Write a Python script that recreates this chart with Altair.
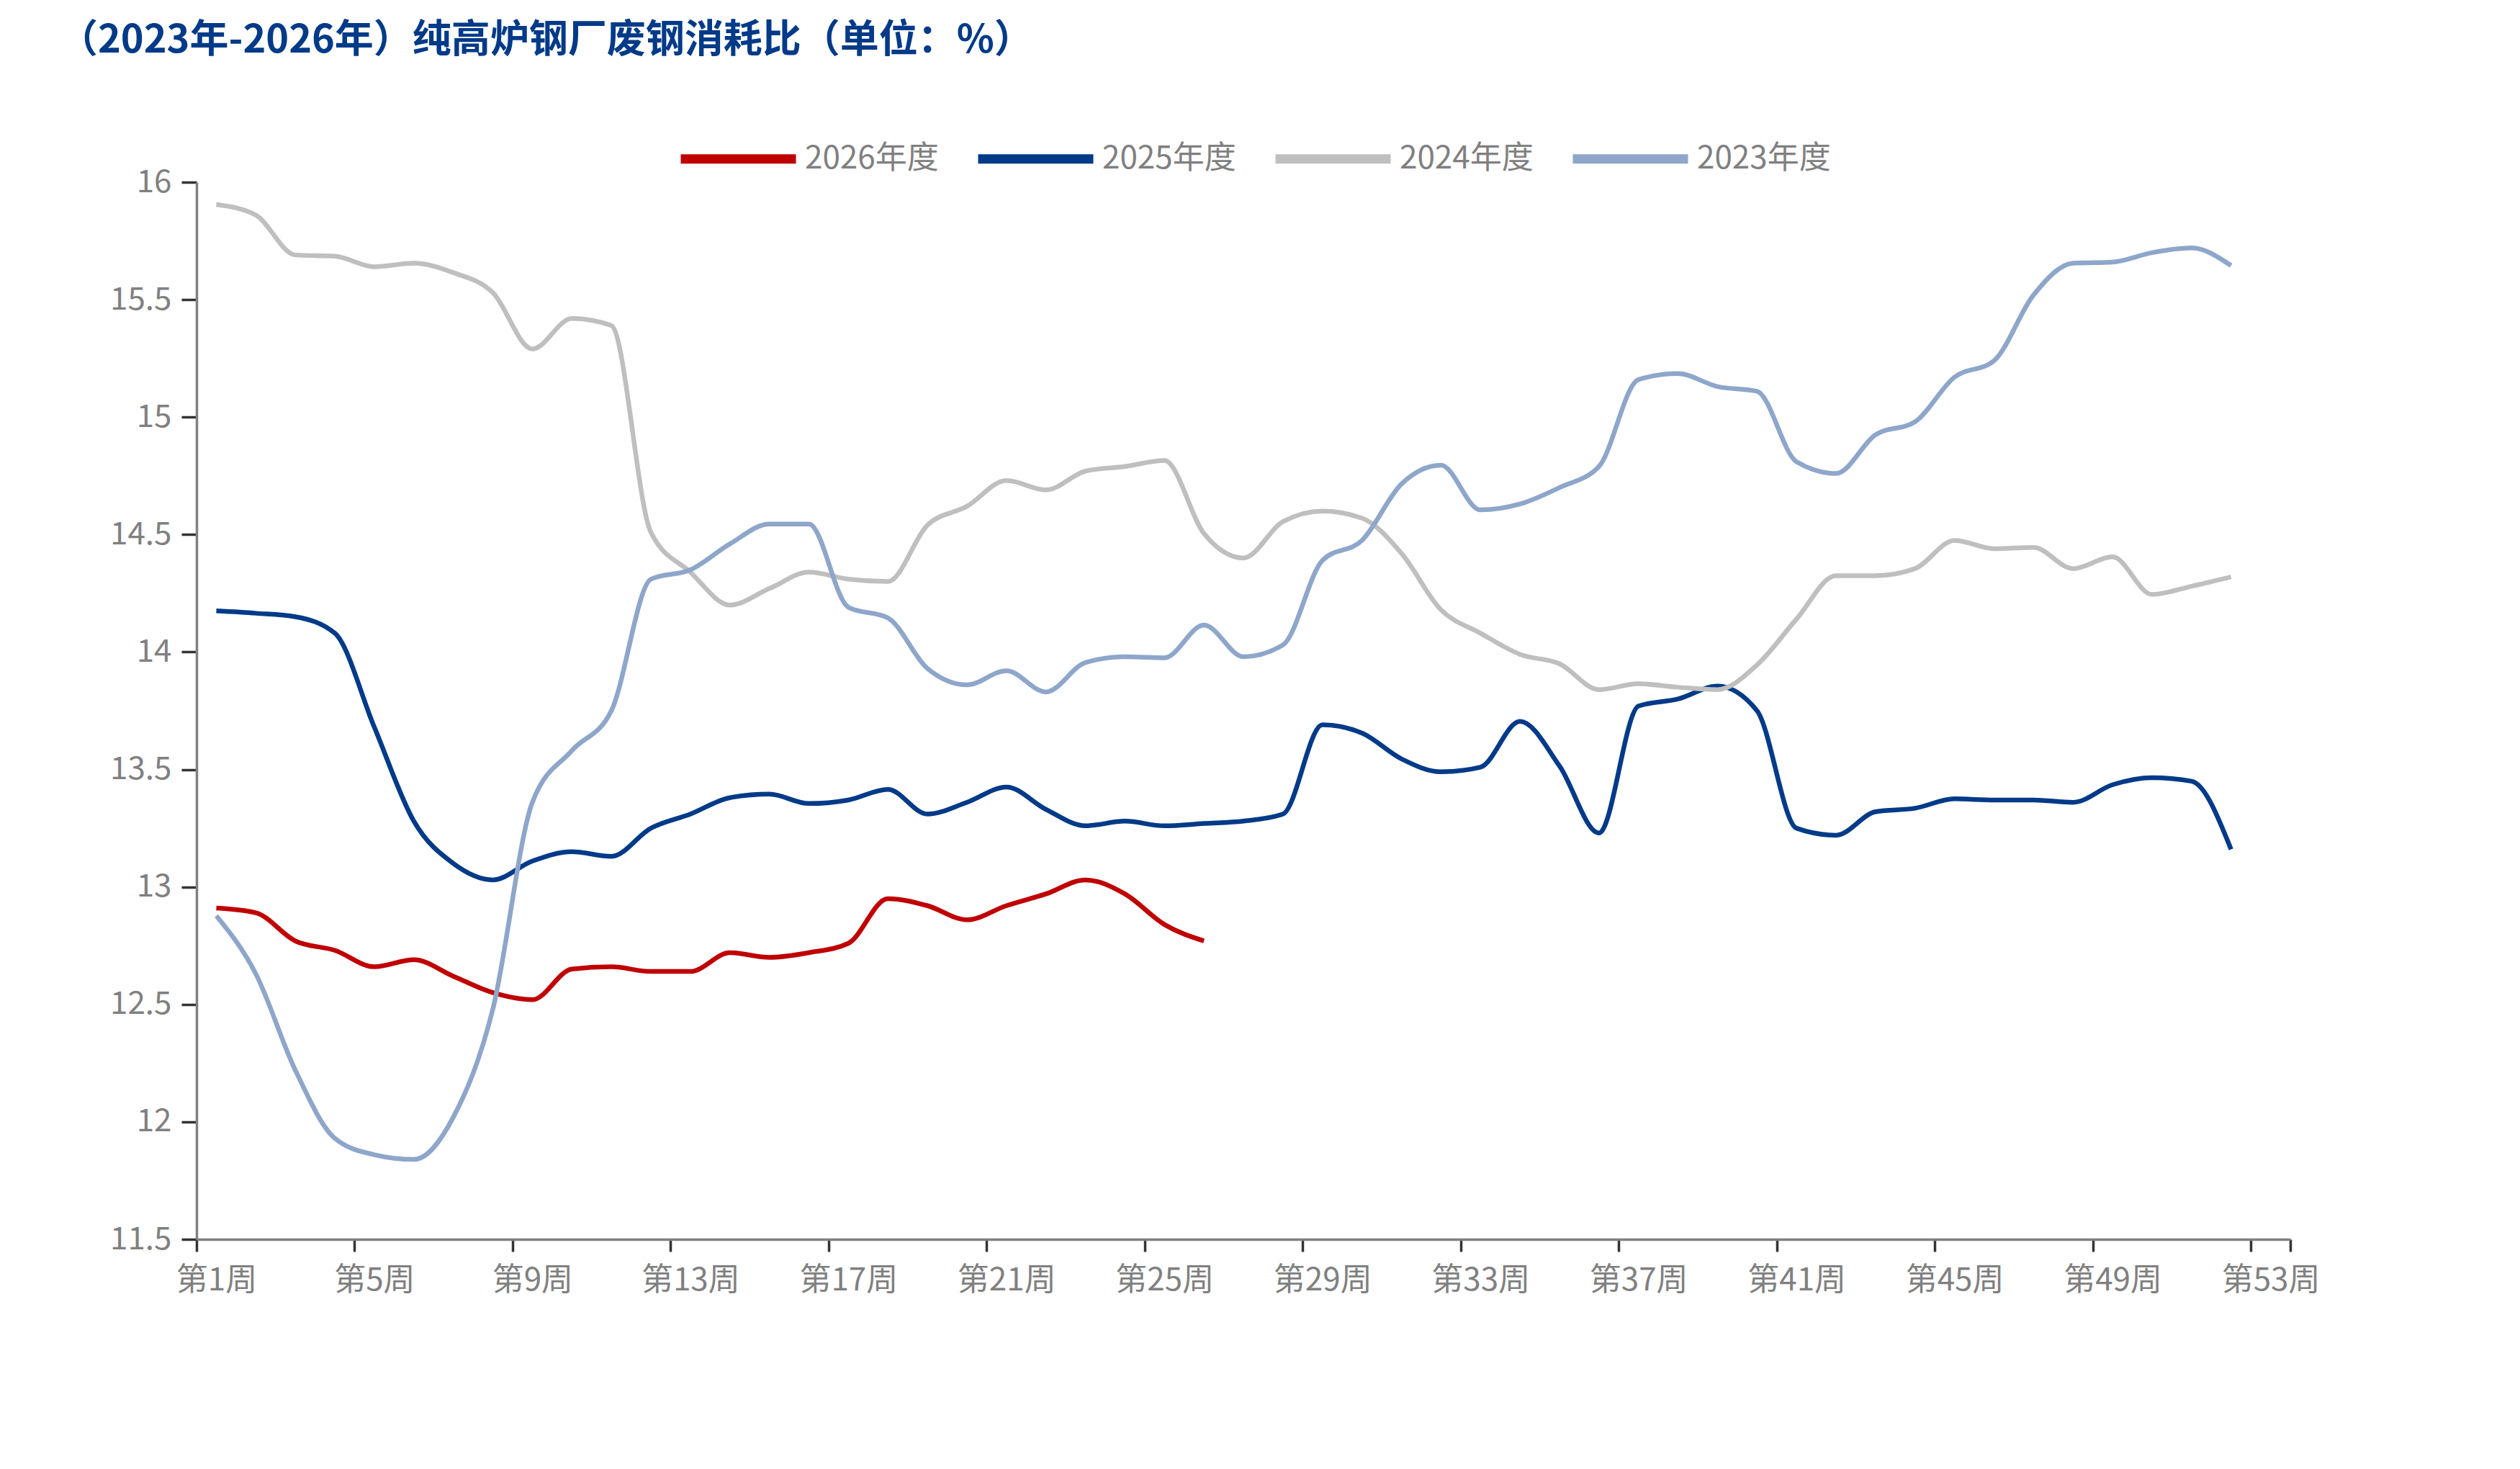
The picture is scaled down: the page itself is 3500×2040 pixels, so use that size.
import altair as alt
import pandas as pd

title_text = "（2023年-2026年）纯高炉钢厂废钢消耗比（单位：%）"

series_names = ["2026年度", "2025年度", "2024年度", "2023年度"]
series_colors = ["#C00000", "#003A88", "#BFBFBF", "#8EA6CA"]

vals_2026 = [12.91, 12.89, 12.77, 12.73, 12.66, 12.69, 12.62, 12.55, 12.52, 12.65,
             12.66, 12.64, 12.64, 12.72, 12.70, 12.72, 12.76, 12.95, 12.92, 12.86,
             12.92, 12.97, 13.03, 12.97, 12.84, 12.77]

vals_2025 = [14.175, 14.165, 14.15, 14.08, 13.68, 13.28, 13.10, 13.03, 13.11, 13.15,
             13.13, 13.25, 13.31, 13.38, 13.395, 13.355, 13.37, 13.415, 13.31, 13.36,
             13.425, 13.33, 13.26, 13.28, 13.26, 13.27, 13.28, 13.31, 13.69, 13.655,
             13.545, 13.49, 13.51, 13.705, 13.515, 13.23, 13.77, 13.80, 13.855, 13.75,
             13.25, 13.22, 13.32, 13.335, 13.375, 13.37, 13.37, 13.36, 13.435, 13.465,
             13.45, 13.16]

vals_2024 = [15.905, 15.86, 15.69, 15.685, 15.64, 15.655, 15.615, 15.53, 15.29, 15.42,
             15.39, 14.51, 14.34, 14.20, 14.27, 14.34, 14.31, 14.30, 14.54, 14.62,
             14.73, 14.69, 14.77, 14.79, 14.815, 14.505, 14.40, 14.555, 14.60, 14.57,
             14.42, 14.18, 14.08, 13.99, 13.95, 13.84, 13.865, 13.85, 13.84, 13.945,
             14.14, 14.325, 14.325, 14.355, 14.475, 14.44, 14.445, 14.355, 14.405, 14.245,
             14.28, 14.32]

vals_2023 = [12.877, 12.63, 12.22, 11.93, 11.86, 11.84, 12.02, 12.48, 13.36, 13.58,
             13.75, 14.31, 14.35, 14.46, 14.545, 14.545, 14.19, 14.145, 13.93, 13.86,
             13.92, 13.83, 13.955, 13.98, 13.975, 14.115, 13.98, 14.03, 14.39, 14.475,
             14.715, 14.795, 14.605, 14.63, 14.70, 14.79, 15.16, 15.185, 15.13, 15.11,
             14.81, 14.76, 14.925, 14.98, 15.17, 15.24, 15.52, 15.655, 15.66, 15.70,
             15.72, 15.645]

y_ticks = [11.5, 12, 12.5, 13, 13.5, 14, 14.5, 15, 15.5, 16]
x_tick_weeks = [1, 5, 9, 13, 17, 21, 25, 29, 33, 37, 41, 45, 49, 53]

rows = []
for name, vals in zip(series_names, [vals_2026, vals_2025, vals_2024, vals_2023]):
    for i, v in enumerate(vals):
        rows.append({"week": i + 1, "value": v, "series": name})
df = pd.DataFrame(rows)

W, H = 2908, 1468
n_weeks = 53
band = W / n_weeks

tick_values = [w - 0.5 for w in x_tick_weeks] + [n_weeks + 0.5]

font = "Noto Sans CJK SC"
label_grey = "#808080"

lines = alt.Chart(df).mark_line(interpolate="monotone", strokeWidth=6.5).encode(
    x=alt.X(
        "week:Q",
        scale=alt.Scale(domain=[0.5, n_weeks + 0.5], nice=False, zero=False),
        axis=alt.Axis(
            values=tick_values,
            labelExpr="datum.value > 53 ? '' : '第' + (datum.value + 0.5) + '周'",
            labelOffset=band / 2,
            labelOverlap=False,
            labelFlush=False,
            labelBound=False,
            title=None,
            grid=False,
            tickSize=17,
            labelPadding=18,
        ),
    ),
    y=alt.Y(
        "value:Q",
        scale=alt.Scale(domain=[11.5, 16], nice=False, zero=False),
        axis=alt.Axis(
            values=y_ticks,
            format=".1~f",
            title=None,
            grid=False,
            tickSize=21,
            labelPadding=14,
            labelOverlap=False,
        ),
    ),
    color=alt.Color(
        "series:N",
        sort=series_names,
        scale=alt.Scale(domain=series_names, range=series_colors),
        legend=alt.Legend(
            orient="none",
            legendX=666,
            legendY=-119,
            direction="horizontal",
            title=None,
            symbolType="stroke",
            symbolSize=25600,
            symbolStrokeWidth=13,
            symbolOpacity=1,
            labelFontSize=44,
            labelColor=label_grey,
            labelFont=font,
            labelLimit=500,
            labelOffset=6,
            columnPadding=28,
            padding=0,
        ),
    ),
)

title_layer = alt.Chart(pd.DataFrame({"t": [title_text]})).mark_text(
    align="left",
    baseline="alphabetic",
    font=font,
    fontSize=54,
    fontWeight="bold",
    color="#003A88",
).encode(
    text="t:N",
    x=alt.value(-191),
    y=alt.value(-180),
)

chart = alt.layer(lines, title_layer).properties(
    width=W,
    height=H,
    autosize=alt.AutoSizeParams(type="none"),
    padding={"left": 265, "top": 245, "right": 300, "bottom": 300},
    background="white",
).configure_view(
    strokeWidth=0
).configure_axis(
    domainColor=label_grey,
    domainWidth=3.5,
    tickColor="#333333",
    tickWidth=3.5,
    labelColor=label_grey,
    labelFontSize=44,
    labelFont=font,
)

chart.save("out.html", embed_options={"renderer": "svg", "actions": False})
